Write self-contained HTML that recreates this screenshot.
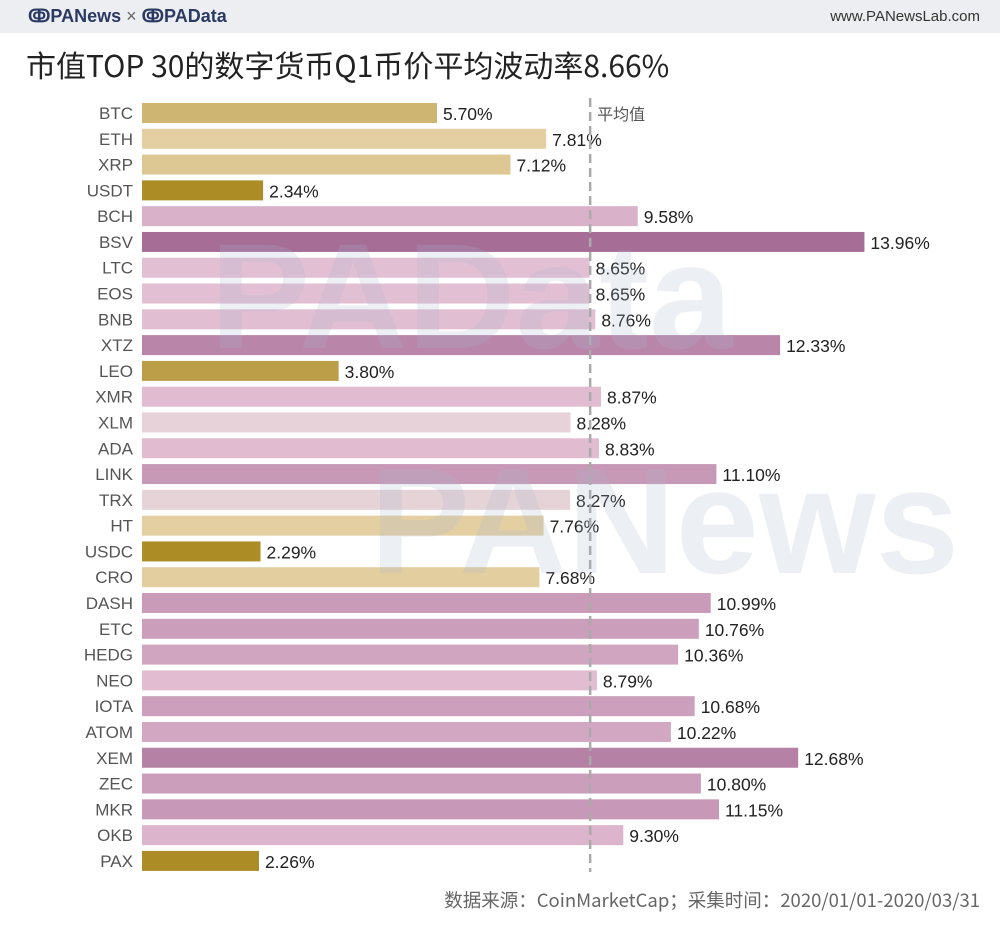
<!DOCTYPE html>
<html><head><meta charset="utf-8"><style>
body{margin:0;width:1000px;height:936px;background:#fff;font-family:"Liberation Sans","Noto Sans CJK SC",sans-serif;overflow:hidden;position:relative}
#hdr{position:absolute;left:0;top:0;width:1000px;height:33px;background:#edeef2}
#logo{position:absolute;left:28px;top:6px;font-size:18px;font-weight:bold;color:#2b3a63}
#site{position:absolute;right:20px;top:8px;font-size:15px;color:#333}
#title{position:absolute;left:26px;top:42px;font-size:30px;color:#222;font-family:"Noto Sans CJK SC",sans-serif;font-weight:400}
#foot{position:absolute;right:20px;top:887px;font-size:18.5px;color:#666;font-family:"Noto Sans CJK SC","Liberation Sans",sans-serif}
.wm{position:absolute;font-size:150px;font-weight:bold;color:rgba(170,180,205,0.22);font-family:"Liberation Sans",sans-serif}
</style></head><body>
<div id="hdr"></div>
<div id="logo">ↂPANews <span style="font-weight:normal;color:#666">×</span> ↂPAData</div>
<div id="site">www.PANewsLab.com</div>
<div id="title">市值TOP 30的数字货币Q1币价平均波动率8.66%</div>
<svg id="chart" width="1000" height="936" style="position:absolute;left:0;top:0"></svg>
<div class="wm" style="left:210px;top:210px">PAData</div>
<div class="wm" style="left:370px;top:435px">PANews</div>
<div id="foot">数据来源：CoinMarketCap；采集时间：2020/01/01-2020/03/31</div>
<script>
const categories=["BTC","ETH","XRP","USDT","BCH","BSV","LTC","EOS","BNB","XTZ","LEO","XMR","XLM","ADA","LINK","TRX","HT","USDC","CRO","DASH","ETC","HEDG","NEO","IOTA","ATOM","XEM","ZEC","MKR","OKB","PAX"];
const values=[5.70,7.81,7.12,2.34,9.58,13.96,8.65,8.65,8.76,12.33,3.80,8.87,8.28,8.83,11.10,8.27,7.76,2.29,7.68,10.99,10.76,10.36,8.79,10.68,10.22,12.68,10.80,11.15,9.30,2.26];
const average=8.66;
const NS="http://www.w3.org/2000/svg";
const svg=document.getElementById('chart');
const x0=142,pxPer=51.75,y0=113,pitch=25.79,bh=20;
const mid=8.2;
function xs(v){return x0+v*pxPer;}
function ys(i){return y0+i*pitch;}
function lerp(a,b,t){return a.map((c,k)=>Math.round(c+(b[k]-c)*t));}
function color(v){
  if(v<mid){const t=Math.min(1,(mid-v)/5.9);return lerp([232,212,172],[172,140,36],t);}
  if(v<8.6){return lerp([230,214,216],[228,196,214],(v-mid)/0.4);}
  const t=Math.min(1,(v-8.6)/5.4);return lerp([228,192,212],[166,108,150],t);
}
function mk(tag,attrs){const e=document.createElementNS(NS,tag);for(const k in attrs)e.setAttribute(k,attrs[k]);svg.appendChild(e);return e;}
categories.forEach((c,i)=>{
  const y=ys(i);
  const r=mk('rect',{x:x0,y:y-bh/2,width:xs(values[i])-x0,height:bh,fill:'rgb('+color(values[i]).join(',')+')'});
  
  
  const l=mk('text',{x:133,y:y+6,'text-anchor':'end','font-size':17,fill:'#555','font-family':'Liberation Sans,sans-serif'});
  l.textContent=c;
  
  
  const t=mk('text',{x:xs(values[i])+6,y:y+7,'font-size':17.5,fill:'#222','font-family':'Liberation Sans,sans-serif'});
  t.textContent=values[i].toFixed(2)+'%';
  
  
});
const ax=xs(average);
const ln=mk('line',{x1:ax,x2:ax,y1:98,y2:872,stroke:'#aaa','stroke-width':2.5,'stroke-dasharray':'9,5'});


const al=mk('text',{x:ax+7,y:120,'font-size':16,fill:'#555','font-family':'Noto Sans CJK SC,sans-serif'});
al.textContent='平均值';


</script>
</body></html>
